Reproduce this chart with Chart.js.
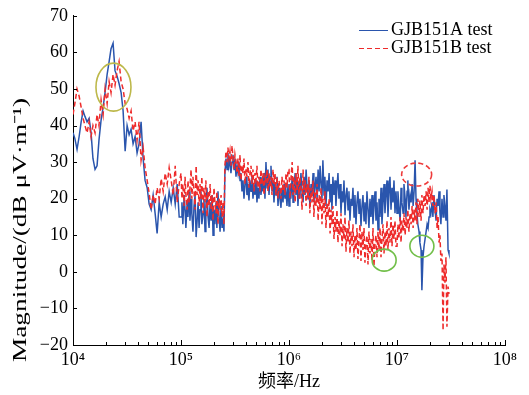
<!DOCTYPE html>
<html>
<head>
<meta charset="utf-8">
<script src="https://cdn.jsdelivr.net/npm/chart.js@4.4.0/dist/chart.umd.min.js"></script>
<style>
  html, body { margin: 0; background: #fff; }
  canvas { display: block; }
</style>
</head>
<body>
<canvas id="emi-chart" width="529" height="395"></canvas>
<script>
// frequency grid (Hz) the traces were read at
const freq = [
  1e4,1.04e4,1.09e4,1.14e4,1.19e4,1.24e4,1.29e4,1.35e4,1.41e4,1.47e4,1.53e4,1.6e4,1.67e4,1.74e4,1.82e4,1.9e4,1.98e4,2.07e4,2.16e4,2.25e4,2.35e4,2.45e4,2.56e4,2.67e4,2.79e4,2.91e4,3.04e4,3.17e4,3.31e4,3.45e4,3.6e4,3.76e4,3.92e4,4.09e4,4.27e4,4.46e4,4.65e4,4.86e4,5.07e4,5.29e4,5.52e4,5.76e4,6.01e4,6.28e4,6.55e4,6.84e4,7.14e4,7.45e4,7.77e4,8.11e4,8.47e4,8.84e4,9.22e4,9.62e4,
  1e5,1.02e5,1.04e5,1.07e5,1.09e5,1.11e5,1.14e5,1.16e5,1.19e5,1.21e5,1.24e5,1.26e5,1.29e5,1.32e5,1.35e5,1.38e5,1.41e5,1.44e5,1.47e5,1.5e5,1.53e5,1.56e5,1.6e5,1.63e5,1.67e5,1.7e5,1.74e5,1.78e5,1.82e5,1.86e5,1.9e5,1.94e5,1.98e5,2.02e5,2.06e5,2.11e5,2.15e5,2.2e5,2.25e5,2.3e5,2.35e5,2.4e5,2.45e5,2.5e5,2.55e5,2.61e5,2.67e5,2.72e5,2.78e5,2.84e5,2.9e5,2.97e5,3.03e5,3.1e5,3.16e5,3.23e5,3.3e5,3.37e5,3.44e5,3.52e5,3.59e5,3.67e5,3.75e5,3.83e5,3.91e5,4e5,4.08e5,4.17e5,4.26e5,4.35e5,4.45e5,4.54e5,4.64e5,4.74e5,4.84e5,4.95e5,5.05e5,5.16e5,5.27e5,5.39e5,5.5e5,5.62e5,5.74e5,5.87e5,5.99e5,6.12e5,6.26e5,6.39e5,6.53e5,6.67e5,6.81e5,6.96e5,7.11e5,7.26e5,7.42e5,7.58e5,7.74e5,7.91e5,8.08e5,8.25e5,8.43e5,8.61e5,8.8e5,8.99e5,9.18e5,9.38e5,9.58e5,9.79e5,
  1e6,1.02e6,1.04e6,1.07e6,1.09e6,1.11e6,1.14e6,1.16e6,1.19e6,1.21e6,1.24e6,1.26e6,1.29e6,1.32e6,1.35e6,1.38e6,1.41e6,1.44e6,1.47e6,1.5e6,1.53e6,1.56e6,1.6e6,1.63e6,1.67e6,1.7e6,1.74e6,1.78e6,1.82e6,1.86e6,1.9e6,1.94e6,1.98e6,2.02e6,2.06e6,2.11e6,2.15e6,2.2e6,2.25e6,2.3e6,2.35e6,2.4e6,2.45e6,2.5e6,2.55e6,2.61e6,2.67e6,2.72e6,2.78e6,2.84e6,2.9e6,2.97e6,3.03e6,3.1e6,3.16e6,3.23e6,3.3e6,3.37e6,3.44e6,3.52e6,3.59e6,3.67e6,3.75e6,3.83e6,3.91e6,4e6,4.08e6,4.17e6,4.26e6,4.35e6,4.45e6,4.54e6,4.64e6,4.74e6,4.84e6,4.95e6,5.05e6,5.16e6,5.27e6,5.39e6,5.5e6,5.62e6,5.74e6,5.87e6,5.99e6,6.12e6,6.26e6,6.39e6,6.53e6,6.67e6,6.81e6,6.96e6,7.11e6,7.26e6,7.42e6,7.58e6,7.74e6,7.91e6,8.08e6,8.25e6,8.43e6,8.61e6,8.8e6,8.99e6,9.18e6,9.38e6,9.58e6,9.79e6,
  1e7,1.02e7,1.04e7,1.07e7,1.09e7,1.11e7,1.14e7,1.16e7,1.19e7,1.21e7,1.24e7,1.26e7,1.29e7,1.32e7,1.35e7,1.38e7,1.41e7,1.44e7,1.47e7,1.5e7,1.53e7,1.56e7,1.6e7,1.63e7,1.67e7,1.7e7,1.74e7,1.78e7,1.82e7,1.86e7,1.9e7,1.94e7,1.98e7,2.02e7,2.06e7,2.11e7,2.15e7,2.2e7,2.25e7,2.3e7,2.35e7,2.4e7,2.45e7,2.5e7,2.55e7,2.61e7,2.67e7,2.72e7,2.78e7,2.84e7,2.9e7,2.97e7,3.03e7
];

// GJB151A test, dB uV/m
const gjbA = [
  38,36.5,33.5,37,41,44,42.5,41,42,38,31,28,29,36,41.5,45,49,54,57.5,61,62.5,55,53.5,51.5,49,44,33,40,37.5,39,35,37,32.5,35,41,31,25,23,18.5,17,21,16,10.5,19,15,18.5,20.5,17,22,19,23,18.5,24,15,
  15,19,13,21,17,12,19,15,22,14, 20,16,11,18,21,9.5,14,19,12,17, 22,13,16,20,11,18,23,15,12,19, 14,21,10,17,13,19,12,22,15,11, 18,12,14,11,
  27,31,28,32.5,29,31, 27,30,32,28,31,26,29,27,30,25, 27,22,25,20,24,26,21,23,19.5,25, 22,26,20,24,21,25,19,23,20,26, 21,24,22,27,20,30,23,28,21,26, 29,22,25,19,24,21,26,18,23,20, 17.5,23,19,24,20,22,18,24,
  18,24,20,26,19,23,27,21,25,18, 24,20,27,22,19,26,21,28,23,20, 25,18,24,21,27,19,23,26,20,28, 22,29,24,20,30.5,21,26,18,25,22, 27,19,24,17,26,21,25,18,23,27,
  20,24,16,22,19,25,15.5,21,23,17, 22,14,20,18,23,15,21,13,19,22, 16,20,12.5,18,21,14,19,13,22,17, 12,20,15,21,13,18,22,14,19,11.5, 20,15,23,13,19,24,16,21,25,15, 22,26,17,23,19,25,16,22,
  16,22,18,14,23,19,16,24,20,15, 22,25,17,21,19,24,18,22, 30.5, 20,16,13,11,8,6, -5, 4,7,9,11,13,12,15,17,16,19, 15,21,17,14,20,18,22,16,13,20, 15,21,18,14,22.5,6, 5
];

// GJB151B test, dB uV/m
const gjbB = [
  43,46,50,48,45,42,40,38,41,37,40,38,43,40,47,43,50,46,52,49,54,51,55,57.5,52,50,46,44.5,42,44,38.5,41,36,41,30.5,34,28.5,25,21.5,17,21,18.5,23,20,25.5,22,27,24,28.5,25,21,29,19,24,
  27,20,24,18,26,21,17,25,19,23, 28,20,26,22,17,29,21,25,18,24, 20,26,16,23,19,25,15,22,18,24, 17,21,14,23,19,16,22,13,20,17, 21,15,19,13,
  29,33,30,34,31,33, 29,34.5,31,28,32,30,27,31,26,32, 25,29,27,31,24,28,26,30,23,27, 29,24,28,22,27,25,29,23,26,22, 28,24,27,21,26,25,28,22,27,23, 26,21,28,24,27,21,26,20,25,23, 20,26,22,25,21,27,23,28,
  28,20,25,30,21,26,19,27,22,29, 20,26,23,17,28,21,25,18,24,20, 26,16,23,19,25,15,22,18,24,14, 21,17,23,13,20,16,22,12,19,15, 20,10.5,17,13,18,9,15,11,17,8,
  14,10,16,7,13,9,15,5.5,12,8, 14,5,11,7,13,4,10,6,12,3.5, 9,13,3,11,6,12,2.5,8,10,2, 11,5,9,3,12,1.5,8,10,4,11, 6,12,4,9,13,5,11,7,14,6, 12,8,15,7,13,9,14,7,
  7,13,9,15,8,14,11,16,10,15, 12,17,11,16,13,18,12,17, 14, 19,13,20,15,19.5,14, 21, 16,21,18,22,17,23,19,23.5,20,22, 18,21,16,19,12,15,8,10,3,5, -16,2,-3,4,-15,-4, -6
];

const xMajor = [1e4, 1e5, 1e6, 1e7, 1e8];
const xTickLabels = ['10\u2074', '10\u2075', '10\u2076', '10\u2077', '10\u2078'];

// hand-drawn marks on the figure: centre in data units, radii in px
const notes = [
  { f: 2.37e4, db: 50.5, rx: 17.5, ry: 24, color: '#bdb84a', dash: [] },
  { f: 1.52e7, db: 26.6, rx: 15, ry: 11.5, color: '#ee3b3b', dash: [5, 3] },
  { f: 7.6e6, db: 3.2, rx: 12, ry: 11, color: '#72bf4a', dash: [] },
  { f: 1.7e7, db: 7.0, rx: 12, ry: 11, color: '#72bf4a', dash: [] }
];

const serif = '"Liberation Serif", "Times New Roman", "Noto Sans CJK SC", serif';
const blue = '#2a55ad';
const red = '#ee2b2b';

const inwardTicks = {
  id: 'inwardTicks',
  afterDraw(chart) {
    const { ctx, chartArea: { left, bottom } } = chart;
    const xs = chart.scales.x, ys = chart.scales.y;
    ctx.save();
    ctx.strokeStyle = '#000';
    ctx.lineWidth = 1;
    ctx.beginPath();
    ys.ticks.forEach(t => {
      const y = Math.round(ys.getPixelForValue(t.value)) + 0.5;
      ctx.moveTo(left, y);
      ctx.lineTo(left + 4, y);
    });
    xs.ticks.forEach(t => {
      const x = Math.round(xs.getPixelForValue(t.value)) + 0.5;
      const len = xMajor.includes(t.value) ? 5 : 3;
      ctx.moveTo(x, bottom);
      ctx.lineTo(x, bottom - len);
    });
    ctx.stroke();
    ctx.restore();
  }
};

const circles = {
  id: 'circles',
  afterDatasetsDraw(chart) {
    const { ctx } = chart;
    const xs = chart.scales.x, ys = chart.scales.y;
    ctx.save();
    ctx.lineWidth = 1.6;
    notes.forEach(n => {
      ctx.strokeStyle = n.color;
      ctx.setLineDash(n.dash);
      ctx.beginPath();
      ctx.ellipse(xs.getPixelForValue(n.f), ys.getPixelForValue(n.db), n.rx, n.ry, 0, 0, Math.PI * 2);
      ctx.stroke();
    });
    ctx.restore();
  }
};

const lineLegend = {
  id: 'lineLegend',
  afterDraw(chart) {
    const { ctx } = chart;
    ctx.save();
    ctx.font = '18px ' + serif;
    ctx.textBaseline = 'middle';
    chart.data.datasets.forEach((ds, i) => {
      const y = 30.5 + i * 18;
      ctx.strokeStyle = ds.borderColor;
      ctx.lineWidth = 1;
      ctx.setLineDash(ds.borderDash || []);
      ctx.beginPath();
      ctx.moveTo(359, y);
      ctx.lineTo(388, y);
      ctx.stroke();
      ctx.fillStyle = '#000';
      ctx.fillText(ds.label, 391, y);
    });
    ctx.restore();
  }
};

const yTitle = {
  id: 'yTitle',
  afterDraw(chart) {
    const { ctx } = chart;
    const text = 'Magnitude/(dB \u03bcV\u00b7m\u207b\u00b9)';
    ctx.save();
    ctx.translate(21.5, 230);
    ctx.rotate(-Math.PI / 2);
    ctx.font = '19px ' + serif;
    const w = ctx.measureText(text).width;
    ctx.scale(264 / w, 1);
    ctx.textAlign = 'center';
    ctx.textBaseline = 'middle';
    ctx.fillStyle = '#000';
    ctx.fillText(text, 0, 0);
    ctx.restore();
  }
};

new Chart(document.getElementById('emi-chart'), {
  type: 'line',
  data: {
    datasets: [
      {
        label: 'GJB151A test',
        data: freq.map((f, i) => ({ x: f, y: gjbA[i] })),
        borderColor: blue,
        borderWidth: 1.5,
        pointRadius: 0,
        order: 1
      },
      {
        label: 'GJB151B test',
        data: freq.map((f, i) => ({ x: f, y: gjbB[i] })),
        borderColor: red,
        borderWidth: 1.5,
        borderDash: [5, 3],
        pointRadius: 0,
        order: 0
      }
    ]
  },
  options: {
    responsive: false,
    animation: false,
    layout: { padding: { top: 15, right: 24, left: 0, bottom: 0 } },
    plugins: { legend: { display: false }, tooltip: { enabled: false } },
    scales: {
      x: {
        type: 'logarithmic',
        min: 1e4,
        max: 1e8,
        afterBuildTicks(scale) {
          const ticks = [];
          xMajor.forEach(p => {
            for (let m = 1; m <= 9; m++) {
              if (m * p <= 1e8) ticks.push({ value: m * p });
            }
          });
          scale.ticks = ticks;
        },
        afterFit(scale) { scale.height = 50; },
        grid: { drawOnChartArea: false, drawTicks: false },
        border: { display: true, color: '#000', width: 1 },
        ticks: {
          autoSkip: false,
          maxRotation: 0,
          padding: 4,
          color: '#000',
          font: { family: serif, size: 18 },
          callback(value) {
            const i = xMajor.indexOf(value);
            return i >= 0 ? xTickLabels[i] : '';
          }
        },
        title: {
          display: true,
          text: '频率/Hz',
          color: '#000',
          font: { family: serif, size: 18 },
          padding: { top: 0, bottom: 2 }
        }
      },
      y: {
        min: -20,
        max: 70,
        afterFit(scale) { scale.width = 73; },
        grid: { drawOnChartArea: false, drawTicks: false },
        border: { display: true, color: '#000', width: 1 },
        ticks: {
          stepSize: 10,
          padding: 5,
          color: '#000',
          font: { family: serif, size: 18 },
          callback: v => (v < 0 ? '\u2212' + (-v) : String(v))
        }
      }
    }
  },
  plugins: [inwardTicks, circles, lineLegend, yTitle]
});
</script>
</body>
</html>
